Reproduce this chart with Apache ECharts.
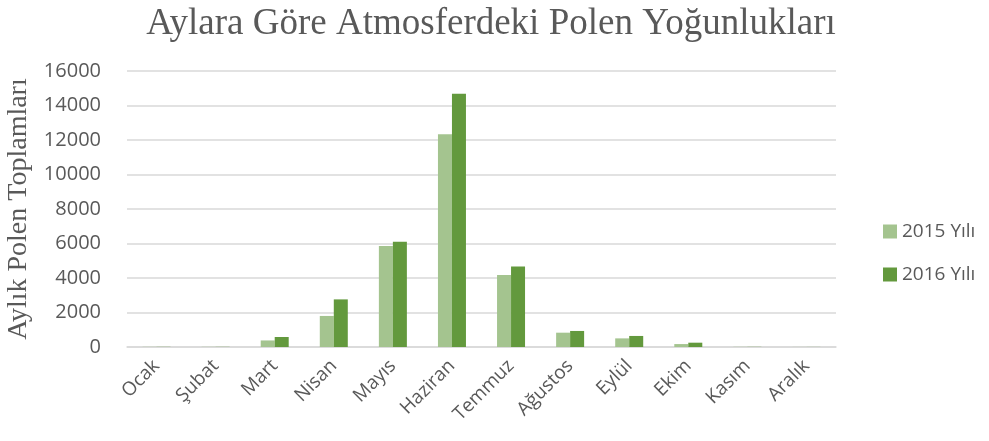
<!DOCTYPE html>
<html>
<head>
<meta charset="utf-8">
<script src="https://cdn.jsdelivr.net/npm/echarts@6/dist/echarts.min.js"></script>
<style>
  html, body { margin: 0; padding: 0; background: #fff; }
  #chart { width: 989px; height: 441px; }
</style>
</head>
<body>
<div id="chart"></div>
<script>
// aylar ve iki yılın polen toplamları
var months = ['Ocak', 'Şubat', 'Mart', 'Nisan', 'Mayıs', 'Haziran', 'Temmuz', 'Ağustos', 'Eylül', 'Ekim', 'Kasım', 'Aralık'];
var pollen2015 = [10, 10, 380, 1800, 5850, 12330, 4170, 830, 500, 170, 10, 5];
var pollen2016 = [10, 10, 580, 2760, 6100, 14680, 4660, 930, 640, 250, 10, 5];
var yTicks = [0, 2000, 4000, 6000, 8000, 10000, 12000, 14000, 16000];

var chart = echarts.init(document.getElementById('chart'));
var option = {
    title: {
        text: 'Aylara Göre Atmosferdeki Polen Yoğunlukları',
        left: 486,
        textAlign: 'center',
        top: 1,
        textStyle: {
            fontFamily: 'Liberation Serif',
            fontSize: 37,
            fontWeight: 'normal',
            color: '#595959'
        }
    },
    color: ['#a4c48f', '#63993d'],
    legend: {
        orient: 'vertical',
        left: 878,
        top: 217,
        itemGap: 24,
        itemWidth: 14,
        itemHeight: 14,
        icon: 'rect',
        textStyle: {
            fontFamily: 'Open Sans',
            fontSize: 19,
            color: '#595959'
        },
        data: ['2015 Yılı', '2016 Yılı']
    },
    grid: {
        left: 127,
        right: 153,
        top: 71,
        bottom: 94,
        outerBoundsMode: 'none'
    },
    xAxis: {
        type: 'category',
        data: months,
        axisTick: { show: false },
        axisLine: { lineStyle: { color: '#d9d9d9', width: 1.5 } },
        axisLabel: {
            rotate: 45,
            interval: 0,
            margin: 16,
            fontFamily: 'Open Sans',
            fontSize: 19,
            color: '#595959'
        }
    },
    yAxis: {
        type: 'value',
        min: yTicks[0],
        max: yTicks[yTicks.length - 1],
        interval: 2000,
        name: 'Aylık Polen Toplamları',
        nameLocation: 'middle',
        nameGap: 92,
        nameTextStyle: {
            fontFamily: 'Liberation Serif',
            fontSize: 28,
            color: '#595959'
        },
        axisLabel: {
            margin: 26,
            fontFamily: 'Open Sans',
            fontSize: 20,
            color: '#595959',
            formatter: function (v) { return String(v); }
        },
        splitLine: { lineStyle: { color: '#d9d9d9', width: 1.5 } }
    },
    series: [
        {
            name: '2015 Yılı',
            type: 'bar',
            barWidth: 14,
            barGap: '0%',
            data: pollen2015
        },
        {
            name: '2016 Yılı',
            type: 'bar',
            barWidth: 14,
            barGap: '0%',
            data: pollen2016
        }
    ]
};
chart.setOption(option);
</script>
</body>
</html>
